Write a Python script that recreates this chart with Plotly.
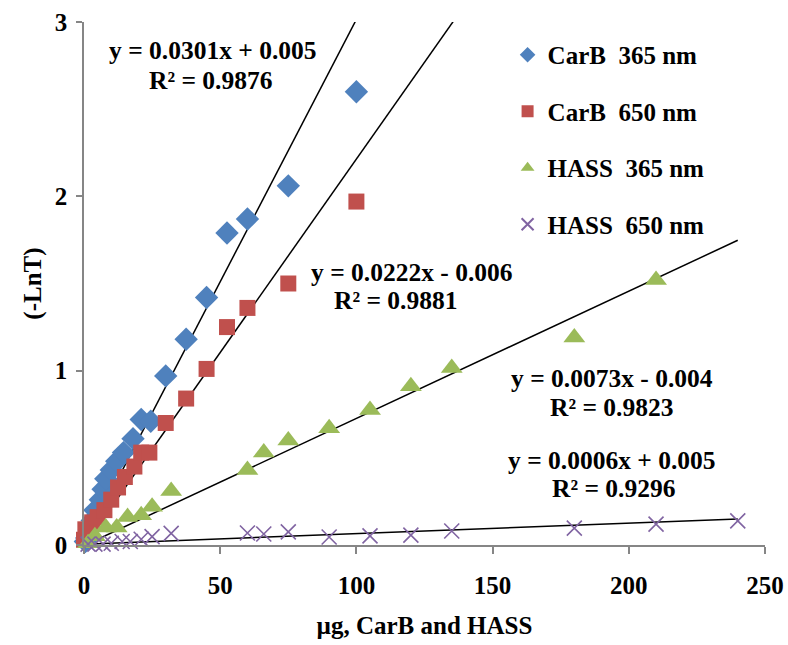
import plotly.graph_objects as go

# ---- data ----
carb365_x = [0.5, 1, 2, 3, 4, 6, 7, 8, 10, 12, 14.5, 18, 21, 24.5, 30, 37.5, 45, 52.5, 60, 75, 100]
carb365_y = [0.02, 0.04, 0.09, 0.14, 0.20, 0.26, 0.32, 0.38, 0.43, 0.48, 0.53, 0.61, 0.72, 0.71, 0.97, 1.18, 1.42, 1.79, 1.87, 2.06, 2.60]

carb650_x = [0, 0.5, 3, 5, 7.5, 10, 12.5, 15, 18.5, 21, 24, 30, 37.5, 45, 52.5, 60, 75, 100]
carb650_y = [0.03, 0.09, 0.13, 0.16, 0.20, 0.26, 0.33, 0.39, 0.45, 0.53, 0.53, 0.70, 0.84, 1.01, 1.25, 1.36, 1.50, 1.97]

hass365_x = [1.5, 4, 8, 12, 16, 21, 25, 32, 60, 66, 75, 90, 105, 120, 135, 180, 210]
hass365_y = [0.01, 0.05, 0.10, 0.10, 0.16, 0.17, 0.22, 0.31, 0.43, 0.53, 0.60, 0.67, 0.775, 0.91, 1.015, 1.19, 1.52]

hass650_x = [1.5, 4, 7, 10, 14, 17, 21, 25, 32, 60, 66, 75, 90, 105, 120, 135, 180, 210, 240]
hass650_y = [0.005, 0.005, 0.005, 0.01, 0.02, 0.02, 0.033, 0.048, 0.067, 0.069, 0.063, 0.075, 0.046, 0.052, 0.057, 0.08, 0.097, 0.12, 0.138]

series_names = ["CarB\u00a0 365 nm", "CarB\u00a0 650 nm", "HASS\u00a0 365 nm", "HASS\u00a0 650 nm"]

# trendline coefficients (from the equations on the chart)
trend_slope = [0.0301, 0.0222, 0.0073, 0.0006]
trend_intercept = [0.005, -0.006, -0.004, 0.005]
trend_x = [0, 240]

eq_text = [
    ("y = 0.0301x + 0.005", "R² = 0.9876"),
    ("y = 0.0222x - 0.006", "R² = 0.9881"),
    ("y = 0.0073x - 0.004", "R² = 0.9823"),
    ("y = 0.0006x + 0.005", "R² = 0.9296"),
]

x_ticks = [0, 50, 100, 150, 200, 250]
y_ticks = [0, 1, 2, 3]

# ---- styling ----
FONT = "Liberation Serif"
colors = ["#4F81BD", "#C0504D", "#9BBB59", "#8064A2"]

fig = go.Figure()

# trendlines
for m, b in zip(trend_slope, trend_intercept):
    fig.add_trace(go.Scatter(
        x=trend_x, y=[m * xv + b for xv in trend_x], mode="lines",
        line=dict(color="black", width=1.5), showlegend=False, hoverinfo="skip"))

data = [(carb365_x, carb365_y), (carb650_x, carb650_y), (hass365_x, hass365_y), (hass650_x, hass650_y)]
symbols = ["diamond", "square", "triangle-up", "x-thin"]
sizes = [18, 16, 19, 15]
for i, ((xs, ys), name) in enumerate(zip(data, series_names)):
    if symbols[i] == "x-thin":
        marker = dict(symbol="x-thin", size=sizes[i], line=dict(color=colors[i], width=1.6), color=colors[i])
    else:
        marker = dict(symbol=symbols[i], size=sizes[i], color=colors[i], line=dict(width=0))
    fig.add_trace(go.Scatter(x=xs, y=ys, mode="markers", name=name, marker=marker,
                             cliponaxis=False, legendgroup=f"g{i}"))

# equation annotations (pixel-placed per line, converted to data coords)
eq_pos = [
    ((213, 50), (210, 80)),
    ((412, 272), (395, 300)),
    ((612, 378), (611, 407)),
    ((612, 460), (613, 488)),
]
X0, X1, Y0, Y1 = 84, 765, 545, 22
def px2data(px, py):
    return (px - X0) / (X1 - X0) * 250, (Y0 - py) / (Y0 - Y1) * 3

for (l1, l2), (p1, p2) in zip(eq_text, eq_pos):
    for txt, p in ((l1, p1), (l2, p2)):
        dx, dy = px2data(*p)
        fig.add_annotation(x=dx, y=dy, text=f"<b>{txt}</b>", showarrow=False,
                           xanchor="center", yanchor="middle",
                           font=dict(family=FONT, size=25.5, color="black"))

axis_color = "#868686"
fig.update_layout(
    width=788, height=645,
    margin=dict(l=84, r=23, t=22, b=100),
    paper_bgcolor="white", plot_bgcolor="white",
    font=dict(family=FONT, size=25, color="black"),
    showlegend=True,
    legend=dict(x=0.622, y=0.981, xanchor="left", yanchor="top",
                font=dict(family=FONT, size=25, color="black", weight="bold"),
                bgcolor="rgba(0,0,0,0)", tracegroupgap=21, itemsizing="constant"),
    xaxis=dict(range=[0, 250], tickvals=x_ticks, ticktext=[f"<b>{v}</b>" for v in x_ticks],
               automargin=False,
               showgrid=False, zeroline=False, showline=True, linecolor=axis_color, linewidth=1.5,
               ticks="outside", ticklen=7, tickcolor=axis_color, tickwidth=1.5,
               ticklabelstandoff=10, tickfont=dict(family=FONT, size=25),
               title=dict(text="<b>µg, CarB and HASS</b>", font=dict(family=FONT, size=25), standoff=19)),
    yaxis=dict(range=[0, 3], tickvals=y_ticks, ticktext=[f"<b>{v}</b>" for v in y_ticks],
               automargin=False,
               showgrid=False, zeroline=False, showline=True, linecolor=axis_color, linewidth=1.5,
               ticks="outside", ticklen=6, tickcolor=axis_color, tickwidth=1.5,
               ticklabelstandoff=4, tickfont=dict(family=FONT, size=25),
               title=dict(text="<b>(-LnT)</b>", font=dict(family=FONT, size=25), standoff=6)),
)

fig.write_html("out.html", config={"displayModeBar": False},
               post_script="document.body.style.margin='0';document.body.style.overflow='hidden';")
